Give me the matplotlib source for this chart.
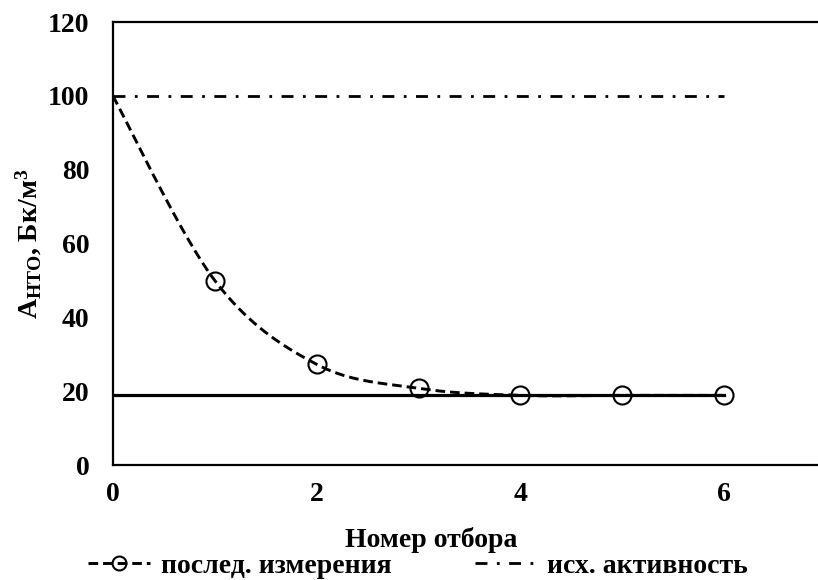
import numpy as np
import matplotlib
matplotlib.use("Agg")
import matplotlib.pyplot as plt
from matplotlib.lines import Line2D

plt.rcParams['font.family'] = ['Liberation Serif', 'DejaVu Serif']
plt.rcParams['font.weight'] = 'bold'
plt.rcParams['mathtext.fontset'] = 'custom'
plt.rcParams['mathtext.rm'] = 'Liberation Serif:bold'
plt.rcParams['mathtext.bf'] = 'Liberation Serif:bold'
plt.rcParams['mathtext.it'] = 'Liberation Serif:bold'

# data
sample_no = [0, 1, 2, 3, 4, 5, 6]
measured = [100, 50, 27.3, 20.8, 18.9, 18.9, 18.9]
initial_x = [0, 6]
initial_activity = [100, 100]
baseline_x = [0, 6]
baseline = [18.9, 18.9]
x_ticks = [0, 2, 4, 6]
y_ticks = [0, 20, 40, 60, 80, 100, 120]
legend_labels = ['послед. измерения', 'исх. активность']

FS = 20
DASHED = (0, (3.3, 1.7))
DASHDOT = (0, (4.3, 3.4, 1.0, 3.4))


def excel_smooth(xs, ys, n=40):
    P = np.column_stack([xs, ys]).astype(float)
    ext = np.vstack([P[0], P, P[-1]])
    out = []
    for i in range(len(P) - 1):
        p0, p1, p2, p3 = ext[i], ext[i + 1], ext[i + 2], ext[i + 3]
        c1 = p1 + (p2 - p0) / 6.0
        c2 = p2 - (p3 - p1) / 6.0
        t = np.linspace(0, 1, n)[:, None]
        seg = ((1 - t) ** 3) * p1 + 3 * ((1 - t) ** 2) * t * c1 + 3 * (1 - t) * t ** 2 * c2 + t ** 3 * p2
        out.append(seg if i == 0 else seg[1:])
    seg = np.vstack(out)
    return seg[:, 0], seg[:, 1]


fig = plt.figure(figsize=(8.18, 5.8), dpi=100)
ax = fig.add_axes([0.138, 0.198, 0.872, 0.764])

sx, sy = excel_smooth(sample_no, measured)
ax.plot(sx, sy, color='black', lw=2.1, linestyle=DASHED)
ax.plot(sample_no[1:], measured[1:], linestyle='none', marker='o', ms=13,
        mfc='none', mec='black', mew=1.5, zorder=4)
ax.plot(baseline_x, baseline, color='black', lw=2.3, zorder=3)
ax.plot(initial_x, initial_activity, color='black', lw=2.0, linestyle=DASHDOT)

ax.set_xlim(0, 7)
ax.set_ylim(0, 120)
ax.set_xticks(x_ticks)
ax.set_yticks(y_ticks)
ax.tick_params(axis='x', length=0, labelsize=FS, pad=12)
ax.tick_params(axis='y', length=0, labelsize=FS, pad=17)
for lab in ax.get_xticklabels() + ax.get_yticklabels():
    lab.set_fontweight('bold')
for s in ax.spines.values():
    s.set_linewidth(1.6)

ax.set_xlabel('Номер отбора', fontsize=FS, fontweight='bold')
ax.xaxis.set_label_coords(0.446, -0.14)
ax.set_ylabel(r'$\mathrm{A_{НТО}}$, Бк/м$^\mathrm{3}$', fontsize=FS, fontweight='bold')
ax.yaxis.set_label_coords(-0.096, 0.5)

h1 = Line2D([], [], color='black', lw=2.1, linestyle=DASHED, marker='o',
            ms=10, mfc='none', mec='black', mew=1.5)
h2 = Line2D([], [], color='black', lw=2.0, linestyle=DASHDOT)
fig.legend([h1, h2], legend_labels, loc='center', bbox_to_anchor=(0.511, 1 - 566 / 580),
           ncol=2, frameon=False, handlelength=2.2, columnspacing=3.0,
           handletextpad=0.4, prop={'weight': 'bold', 'size': FS})

fig.savefig('out.png', dpi=100)
